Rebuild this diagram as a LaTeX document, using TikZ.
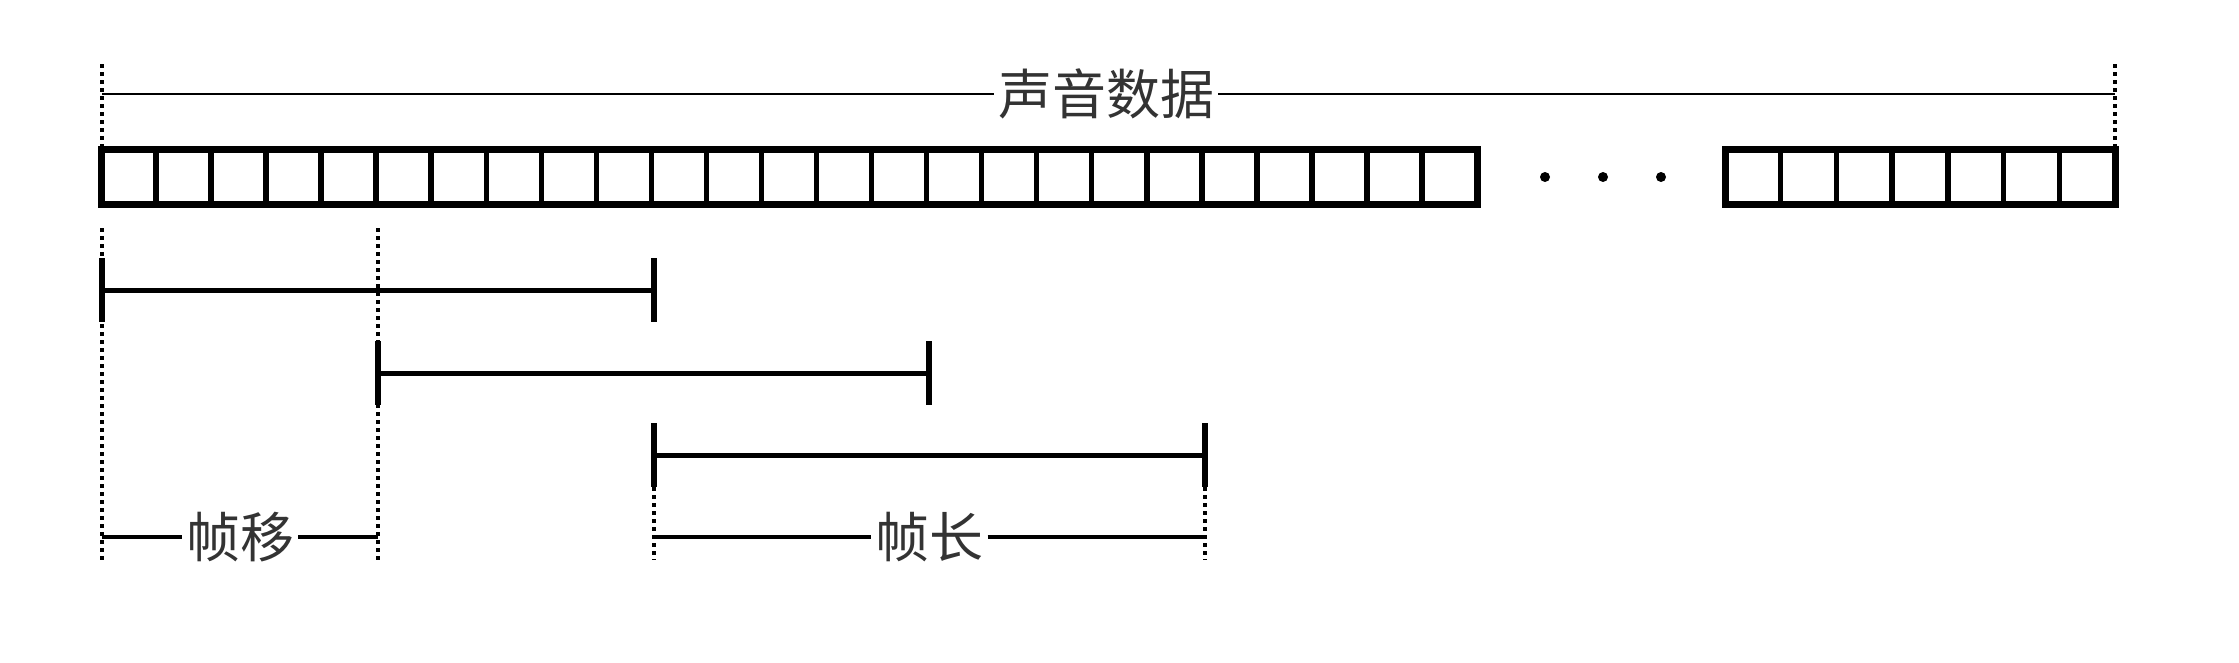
\documentclass[tikz,border=0pt]{standalone}
\usepackage{fontspec}
\newfontfamily\cjk{Noto Sans CJK SC}
\begin{document}
\begin{tikzpicture}[x=1pt,y=-1pt,
  boxline/.style={line width=7pt},
  cellline/.style={line width=5.5pt},
  guide/.style={line width=3.4pt, dash pattern=on 4pt off 4pt},
  thinline/.style={line width=2.8pt},
  barline/.style={line width=5pt},
  tickline/.style={line width=6.5pt},
  dimline/.style={line width=3.4pt},
  lab/.style={font=\cjk\fontsize{54}{60}\selectfont, inner sep=4pt, text=black!80}
]
\useasboundingbox (0,0) rectangle (2239,662);

% title and guides
\coordinate (tl) at (102,94);
\coordinate (tr) at (2115,94);
\coordinate (gtl) at (102,64);
\coordinate (gbl) at (102,148);
\coordinate (gtr) at (2115,64);
\coordinate (gbr) at (2115,148);
\node[lab] (title) at (1106,94) {声音数据};
\draw[thinline] (tl) -- (title.west);
\draw[thinline] (title.east) -- (tr);
\draw[guide] (gtl) -- (gbl);
\draw[guide] (gtr) -- (gbr);

% data blocks
\foreach \i in {1,...,24} \draw[cellline] ({101+\i*55.04},149) -- ({101+\i*55.04},204);
\draw[boxline] (101,149) rectangle (1477,204);
\foreach \i in {1,...,6} \draw[cellline] ({1725+\i*55.71},149) -- ({1725+\i*55.71},204);
\draw[boxline] (1725,149) rectangle (2115,204);
\foreach \x in {1545,1603,1661} \fill (\x,177) circle (5);

% lower guides
\coordinate (ga1) at (102,228);
\coordinate (ga2) at (102,560);
\coordinate (gb1) at (378,228);
\coordinate (gb2) at (378,560);
\coordinate (gc1) at (654,487);
\coordinate (gc2) at (654,560);
\coordinate (gd1) at (1205,487);
\coordinate (gd2) at (1205,560);
\draw[guide] (ga1) -- (ga2);
\draw[guide] (gb1) -- (gb2);
\draw[guide] (gc1) -- (gc2);
\draw[guide] (gd1) -- (gd2);

% frames
\coordinate (f1a) at (102,290);
\coordinate (f1b) at (654,290);
\coordinate (f2a) at (378,373);
\coordinate (f2b) at (929,373);
\coordinate (f3a) at (654,455);
\coordinate (f3b) at (1205,455);
\foreach \a/\b in {f1a/f1b,f2a/f2b,f3a/f3b}{
  \draw[barline] (\a) -- (\b);
  \draw[tickline] (\a) ++(0,-32) -- ++(0,64);
  \draw[tickline] (\b) ++(0,-32) -- ++(0,64);
}

% dimensions
\coordinate (s1) at (102,537);
\coordinate (s2) at (378,537);
\coordinate (l1) at (654,537);
\coordinate (l2) at (1205,537);
\node[lab] (shift) at (240,537) {帧移};
\node[lab] (len) at (929.5,537) {帧长};
\draw[dimline] (s1) -- (shift.west);
\draw[dimline] (shift.east) -- (s2);
\draw[dimline] (l1) -- (len.west);
\draw[dimline] (len.east) -- (l2);
\end{tikzpicture}
\end{document}
